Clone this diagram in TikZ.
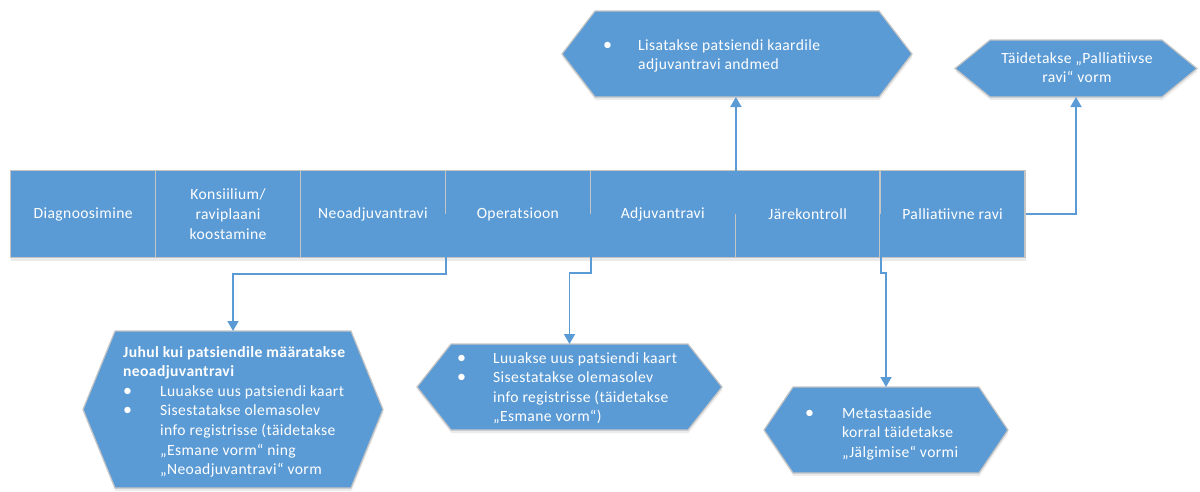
\documentclass[tikz,border=0pt]{standalone}
\usepackage{fontspec}
\setmainfont[LetterSpace=2.5]{Carlito}
\usetikzlibrary{arrows.meta,shadows,calc}
\definecolor{officeblue}{HTML}{5B9BD5}
\definecolor{edgegrey}{HTML}{C4C4C4}

% hexagon drawn over the bounding frame node #1, with point depth #2
\newcommand\hexfrom[2]{%
  \path[hexfill] ($(#1.north west)+(#2,0)$) -- ($(#1.north east)+(-#2,0)$)
    -- (#1.east) -- ($(#1.south east)+(-#2,0)$) -- ($(#1.south west)+(#2,0)$)
    -- (#1.west) -- cycle;}
% list bullet
\newcommand\itembul{{\fontsize{18}{19.5}\selectfont\textbullet}}

\begin{document}
\begin{tikzpicture}[x=1pt,y=-1pt,
  every node/.style={font=\fontsize{15.6}{19.6}\selectfont, text=white, inner sep=0pt},
  softshadow/.style={drop shadow={shadow xshift=0.5pt, shadow yshift=-3pt, opacity=0.08, fill=black}},
  stage/.style={draw=edgegrey, line width=1.4pt, fill=officeblue, softshadow,
    minimum width=144.9pt, minimum height=87pt, align=center, anchor=north west},
  frame/.style={anchor=north west, outer sep=0pt},
  hexfill/.style={draw=edgegrey, line width=1.2pt, fill=officeblue, softshadow},
  infotext/.style={anchor=base west, align=left},
  conn/.style={draw=officeblue, line width=1.8pt},
  connarrow/.style={conn, -{Triangle[width=11pt,length=10pt]}}
]
\useasboundingbox (0,0) rectangle (1200,491);

% process stages
\node[stage] (r1) at (10,170)    {Diagnoosimine};
\node[stage] (r2) at (154.9,170) {Konsiilium/\\raviplaani\\koostamine};
\node[stage] (r3) at (299.8,170) {Neoadjuvantravi};
\node[stage] (r4) at (444.7,170) {Operatsioon};
\node[stage] (r5) at (589.6,170) {Adjuvantravi};
\node[stage] (r6) at (734.5,170) {Järekontroll};
\node[stage] (r7) at (879.4,170) {Palliatiivne ravi};

% frames of the action hexagons
\node[frame, minimum width=350pt, minimum height=86pt] (h1) at (562,11) {};
\node[frame, minimum width=242pt, minimum height=57pt] (h2) at (955,40) {};
\node[frame, minimum width=300pt, minimum height=157pt] (h3) at (83,331) {};
\node[frame, minimum width=305pt, minimum height=86pt] (h4) at (417,344) {};
\node[frame, minimum width=244pt, minimum height=86pt] (h5) at (764,387) {};

\hexfrom{h1}{33}
\hexfrom{h2}{35}
\hexfrom{h3}{32}
\hexfrom{h4}{34}
\hexfrom{h5}{29}

% hexagon texts
\node[infotext] (t1) at (603,50) {\begin{tabular}[t]{@{}p{35pt}@{}l@{}}
  \itembul & Lisatakse patsiendi kaardile\\
  & adjuvantravi andmed
\end{tabular}};

\node[anchor=base] (t2) at (1077,63) {\begin{tabular}[t]{@{}c@{}}
  Täidetakse „Palliatiivse\\ravi“ vorm
\end{tabular}};

\node[infotext] (t3) at (123,357) {\begin{tabular}[t]{@{}p{37pt}@{}l@{}}
  \multicolumn{2}{@{}l@{}}{\bfseries Juhul kui patsiendile määratakse}\\
  \multicolumn{2}{@{}l@{}}{\bfseries neoadjuvantravi}\\
  \itembul & Luuakse uus patsiendi kaart\\
  \itembul & Sisestatakse olemasolev\\
  & info registrisse (täidetakse\\
  & „Esmane vorm“ ning\\
  & „Neoadjuvantravi“ vorm
\end{tabular}};

\node[infotext] (t4) at (457,363) {\begin{tabular}[t]{@{}p{36pt}@{}l@{}}
  \itembul & Luuakse uus patsiendi kaart\\
  \itembul & Sisestatakse olemasolev\\
  & info registrisse (täidetakse\\
  & „Esmane vorm“)
\end{tabular}};

\node[infotext] (t5) at (805,418) {\begin{tabular}[t]{@{}p{37pt}@{}l@{}}
  \itembul & Metastaaside\\
  & korral täidetakse\\
  & „Jälgimise“ vormi
\end{tabular}};

% connectors
\draw[connarrow] (r3.east) -- ++(0,60) -| (h3.north);
\draw[connarrow] (r4.east) -- ++(0,59) -| (h4.north);
\draw[connarrow] (r6.east) -- ++(0,59) -| (h5.north);
\draw[connarrow] (r5.east) -- (r5.east |- h1.south);
\draw[connarrow] (r7.east) -| (h2.south);
\end{tikzpicture}
\end{document}
